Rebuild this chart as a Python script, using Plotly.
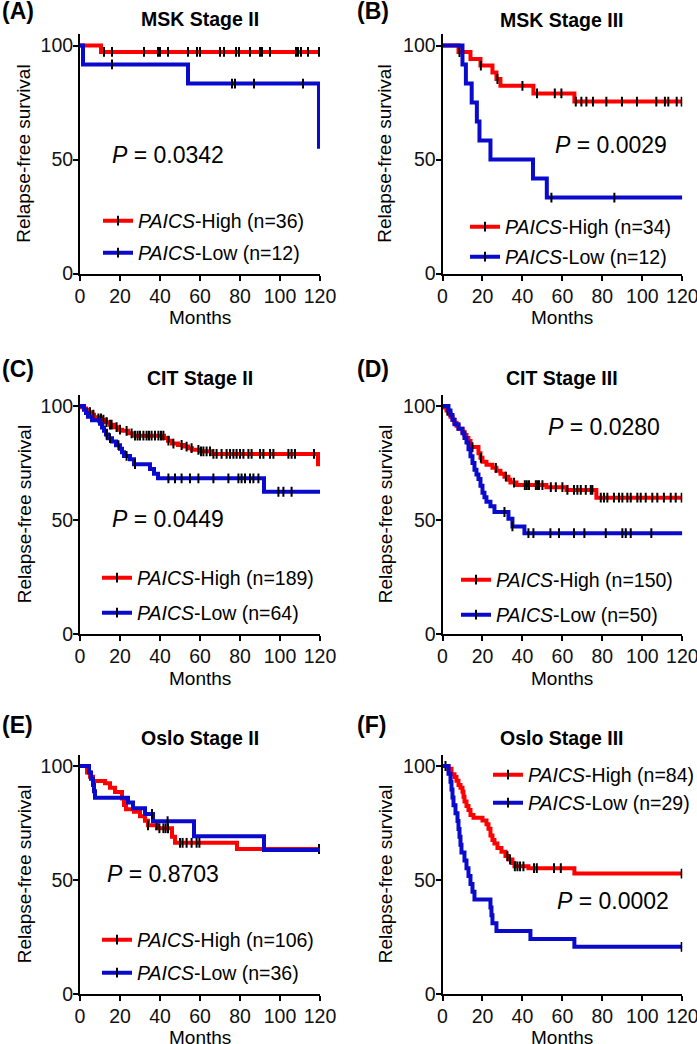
import plotly.graph_objects as go

W, H = 697, 1044
FONT = "Liberation Sans, Arial, sans-serif"
RED = "#FF0000"
BLUE = "#0A0ACD"
END = 120

panel_labels = ["(A)", "(B)", "(C)", "(D)", "(E)", "(F)"]
panel_titles = ["MSK Stage II", "MSK Stage III", "CIT Stage II", "CIT Stage III",
                "Oslo Stage II", "Oslo Stage III"]
p_values = ["0.0342", "0.0029", "0.0449", "0.0280", "0.8703", "0.0002"]
n_high = [36, 34, 189, 150, 106, 84]
n_low = [12, 12, 64, 50, 36, 29]
x_ticks = [0, 20, 40, 60, 80, 100, 120]
y_ticks = [0, 50, 100]

# ---- (A) MSK Stage II ----
A_high_t = [10.5]
A_high_s = [97.2]
A_high_c = [12, 16, 32, 39, 40, 44, 54, 58.5, 60, 70, 72, 78, 79.5, 85, 90, 91, 95,
            108, 109, 110.5, 114, 119.5]
A_low_t = [1.5, 54, 119.5]
A_low_s = [91.7, 83.3, 55.6]
A_low_c = [16, 76, 77.5, 87, 111.5]

# ---- (B) MSK Stage III ----
B_high_t = [8, 14, 19, 25, 27, 29, 45.5, 66]
B_high_s = [97.1, 94.1, 91.2, 88.2, 85.3, 82.3, 79.0, 75.4]
B_high_c = [8.5, 19.2, 27.5, 40, 47.3, 56.2, 59.5, 66.7, 69.5, 72, 75.3, 82, 89.8, 97.3,
            107, 111.3, 113, 117.2, 119.7]
B_low_t = [10, 11.7, 14.6, 17.2, 18.5, 24, 45.3, 52.2]
B_low_s = [91.7, 83.3, 75.0, 66.7, 58.3, 50.0, 41.7, 33.3]
B_low_c = [54.5, 86]

# ---- (C) CIT Stage II ----
C_high_t = [1, 2, 3, 4, 5.5, 7, 9, 11, 13, 15, 17, 19, 21, 24, 27, 42, 44, 46, 49, 52,
            54, 56, 60, 66, 119]
C_high_s = [99.5, 98.9, 98.4, 97.3, 96.2, 95.1, 94.6, 94.0, 92.9, 91.8, 90.7, 89.6, 89.1,
            88.0, 87.0, 86.0, 84.8, 83.5, 82.9, 82.2, 81.5, 80.8, 80.1, 79.0, 74.5]
C_high_c = [5, 6.7, 9.2, 10.5, 11.7, 13.3, 15, 15.8, 18.3, 20, 23.3, 25.8, 27.5, 28.8, 30,
            31.7, 33.3, 34.5, 35.8, 37.5, 39.2, 40.5, 41.7, 44.2, 46.7, 50.8, 53.3, 55.8,
            59.2, 60.5, 61.7, 63.3, 65, 66.7, 68.3, 70.8, 73.3, 75, 76.7, 78.3, 80, 81.7,
            84.2, 85.8, 90, 91.7, 95, 96.7, 104.2, 105.8, 107.5, 117]
C_low_t = [2, 3, 4, 6, 10, 11, 12, 13, 14, 16, 18, 20, 21, 22, 25, 27, 35, 37, 39, 92]
C_low_s = [98.4, 96.9, 95.3, 93.8, 92.2, 90.6, 89.1, 87.5, 85.9, 84.4, 82.8, 81.2, 79.7,
           78.1, 76.6, 74.5, 72.4, 70.3, 68.3, 62.4]
C_low_c = [13.3, 15, 19.2, 23.3, 27.5, 44.2, 47.5, 50.8, 55, 59.2, 66.7, 74.2, 79.2, 80.8,
           82.5, 85, 86.7, 89.2, 99.2, 101.7, 105.8]

# ---- (D) CIT Stage III ----
D_high_t = [1, 2, 3, 4, 5, 6, 7, 8, 10, 11, 12, 13, 14, 18, 19, 20, 22, 25, 27, 29, 31,
            33, 34, 37, 52, 62, 77]
D_high_s = [99.3, 98.0, 96.7, 95.3, 94.0, 92.7, 91.3, 90.0, 88.7, 87.3, 86.0, 84.7, 82.0,
            79.3, 77.3, 75.5, 74.2, 72.9, 71.6, 70.3, 69.0, 67.7, 66.4, 65.3, 64.4, 63.2,
            59.8]
D_high_c = [2.5, 15, 19.2, 26.7, 31.7, 35.8, 41.2, 42.2, 43.3, 46.7, 47.5, 48.3, 50, 54.2,
            56.7, 60, 62.5, 65.8, 67.5, 69.2, 71.7, 74.2, 75, 79.2, 80.8, 82.5, 85.8, 88.3,
            90, 92.5, 94.2, 97.5, 99.2, 101.7, 105, 107.5, 110.8, 114.2, 116.7, 119.7]
D_low_t = [3, 4, 5, 6, 8, 10, 11, 12, 13, 14, 15, 16, 17, 18, 19, 20, 21, 22, 24, 26, 33,
           35, 41]
D_low_s = [98, 96, 94, 92, 90, 88, 86, 84, 81, 78, 75, 72, 70, 68, 65, 62, 60, 58, 56,
           53.5, 50.5, 47.2, 44.2]
D_low_c = [31, 35, 43, 45.5, 54, 58.3, 65.8, 71, 81.7, 90, 91.7, 94.2, 104.5]

# ---- (E) Oslo Stage II ----
E_high_t = [3.5, 5, 6.5, 12.5, 15, 17.5, 21, 22, 23, 27, 30, 32.5, 34, 38.5, 46, 47.5,
            78.5]
E_high_s = [97.2, 95.3, 93.4, 92.4, 90.5, 88.6, 85.7, 82.9, 81.0, 79.9, 78.0, 76.0, 74.0,
            72.7, 69.0, 66.3, 63.6]
E_high_c = [34, 38.3, 39.7, 41.7, 42.8, 44, 50, 51.3, 53.3, 55.8, 58.3, 59.7, 119.5]
E_low_t = [4.5, 5.5, 6.5, 7.0, 7.5, 24, 26.5, 32.5, 36.5, 57, 92]
E_low_s = [97.2, 94.4, 91.7, 88.9, 86.1, 84.0, 81.5, 79.0, 75.8, 69.2, 63.2]
E_low_c = [36, 43.8]

# ---- (F) Oslo Stage III ----
F_high_t = [3, 4.5, 6, 7, 8, 9, 10, 10.5, 11, 12, 13, 14, 15.5, 20, 22, 23, 24, 25, 26,
            27.5, 29.5, 31.5, 33, 35, 36, 43, 66]
F_high_s = [98.8, 96.4, 95.2, 93.5, 91.7, 90.5, 88.7, 86.5, 84.4, 82.5, 80.7, 78.5, 77.3,
            76.1, 74.5, 72.5, 69.5, 67.5, 66.0, 64.0, 62.4, 60.5, 59.0, 57.5, 56.0, 55.2,
            52.8]
F_high_c = [1.5, 32.5, 33.8, 36.2, 37.5, 38.8, 40.5, 45.8, 47.2, 55.8, 59.2, 119.7]
F_low_t = [3, 4, 4.5, 5, 5.5, 6.5, 7.5, 8, 8.5, 9, 9.5, 11, 12, 13, 14, 15, 16, 24, 24.5,
           25, 27, 44, 66]
F_low_s = [96.6, 93.1, 89.7, 86.2, 82.8, 79.3, 75.9, 72.4, 69.0, 65.5, 62.1, 58.6, 55.2,
           51.7, 48.3, 44.8, 41.4, 37.9, 34.5, 31.0, 27.6, 24.1, 20.7]
F_low_c = [119.7]

high_t = [A_high_t, B_high_t, C_high_t, D_high_t, E_high_t, F_high_t]
high_s = [A_high_s, B_high_s, C_high_s, D_high_s, E_high_s, F_high_s]
high_c = [A_high_c, B_high_c, C_high_c, D_high_c, E_high_c, F_high_c]
low_t = [A_low_t, B_low_t, C_low_t, D_low_t, E_low_t, F_low_t]
low_s = [A_low_s, B_low_s, C_low_s, D_low_s, E_low_s, F_low_s]
low_c = [A_low_c, B_low_c, C_low_c, D_low_c, E_low_c, F_low_c]

# ---- layout geometry (pixels) ----
COL_X0 = [80, 442.5]
COL_X1 = [320, 682.3]
ROW_Y0 = [273.5, 634, 994]      # pixel of value 0
PX_PER_UNIT = 2.28
YMAX = 105

label_pos = [(0, 11), (355, 11), (0, 369), (355, 369), (0, 725), (355, 725)]
title_y = [19, 20, 378, 378, 738, 738]
pval_pos = [(110, 155), (553, 145), (110, 519), (546, 427), (105, 874), (555, 901)]
legend_pos = [((138, 221), (138, 253)), ((505, 227), (505, 257)),
              ((137, 578), (137, 613)), ((496, 580), (496, 615)),
              ((137, 940), (137, 973)), ((528, 775), (528, 803))]
ytitle_x = [24, 385]
months_dy = [44, 44, 43]


def px(x):
    return x / W


def py(y):
    return 1 - y / H


def step_xy(times, surv):
    xs = [0] + list(times) + [END]
    ys = [100] + list(surv) + [surv[-1]]
    return xs, ys


def surv_at(times, surv, t):
    v = 100
    for ti, si in zip(times, surv):
        if ti <= t:
            v = si
    return v


fig = go.Figure()
layout = dict(
    width=W, height=H,
    margin=dict(l=0, r=0, t=0, b=0, autoexpand=False),
    paper_bgcolor="white", plot_bgcolor="white",
    font=dict(family=FONT, color="black"),
    showlegend=True,
)
annotations = []

for i in range(6):
    r, c = divmod(i, 2)
    k = i + 1
    xa = "x" if k == 1 else f"x{k}"
    ya = "y" if k == 1 else f"y{k}"
    y0 = ROW_Y0[r]
    ytop = y0 - YMAX * PX_PER_UNIT
    axis_style = dict(showline=True, linecolor="black", linewidth=2, ticks="outside",
                      ticklen=5, tickwidth=2, tickcolor="black", showgrid=False,
                      zeroline=False, tickfont=dict(size=19.5, family=FONT, color="#111"),
                      fixedrange=True, ticklabeloverflow="allow")
    layout[f"xaxis{'' if k == 1 else k}"] = dict(
        domain=[px(COL_X0[c]), px(COL_X1[c])], anchor=ya, range=[0, END],
        tickvals=x_ticks, ticklabelstandoff=-1, **axis_style)
    layout[f"yaxis{'' if k == 1 else k}"] = dict(
        domain=[py(y0), py(ytop)], anchor=xa, range=[0, YMAX],
        tickvals=y_ticks, ticklabelstandoff=-4, **axis_style)

    groups = [(high_t[i], high_s[i], high_c[i], RED, f"<i>PAICS</i>-High (n={n_high[i]})"),
              (low_t[i], low_s[i], low_c[i], BLUE, f"<i>PAICS</i>-Low (n={n_low[i]})")]
    for g, (t, s, cen, col, name) in enumerate(groups):
        lg_id = 2 * i + g + 1
        lg = "legend" if lg_id == 1 else f"legend{lg_id}"
        xs, ys = step_xy(t, s)
        fig.add_trace(go.Scatter(x=xs, y=ys, mode="lines", line=dict(color=col, width=4,
                                 shape="hv"), xaxis=xa, yaxis=ya, showlegend=False,
                                 hoverinfo="skip"))
        fig.add_trace(go.Scatter(x=cen, y=[surv_at(t, s, v) for v in cen], mode="markers",
                                 marker=dict(symbol="line-ns", size=7, color="black",
                                             line=dict(color="black", width=2)),
                                 xaxis=xa, yaxis=ya, showlegend=False, hoverinfo="skip"))
        # legend entry
        fig.add_trace(go.Scatter(x=[None], y=[None], mode="lines+markers", name=name,
                                 line=dict(color=col, width=4),
                                 marker=dict(symbol="line-ns", size=7, color="black",
                                             line=dict(color="black", width=2)),
                                 xaxis=xa, yaxis=ya, legend=lg, showlegend=True))
        tx, ty = legend_pos[i][g]
        layout[lg] = dict(x=px(tx - 40), y=py(ty), xanchor="left", yanchor="middle",
                          bgcolor="rgba(0,0,0,0)", borderwidth=0, itemwidth=30,
                          font=dict(size=19.5, family=FONT, color="black"))

    cx = (COL_X0[c] + COL_X1[c]) / 2
    lx, ly = label_pos[i]
    annotations.append(dict(text=f"<b>{panel_labels[i]}</b>", x=px(lx), y=py(ly),
                            xref="paper", yref="paper", xanchor="left", yanchor="middle",
                            showarrow=False, font=dict(size=23, family=FONT, color="black")))
    annotations.append(dict(text=f"<b>{panel_titles[i]}</b>", x=px(cx), y=py(title_y[i]),
                            xref="paper", yref="paper", xanchor="center", yanchor="middle",
                            showarrow=False, font=dict(size=19.5, family=FONT, color="black")))
    vx, vy = pval_pos[i]
    annotations.append(dict(text=f"<i>P</i> = {p_values[i]}", x=px(vx), y=py(vy),
                            xref="paper", yref="paper", xanchor="left", yanchor="middle",
                            showarrow=False, font=dict(size=23, family=FONT, color="black")))
    annotations.append(dict(text="Relapse-free survival", x=px(ytitle_x[c]),
                            y=py((y0 + ytop) / 2), xref="paper", yref="paper",
                            xanchor="center", yanchor="middle", textangle=-90,
                            showarrow=False, font=dict(size=19, family=FONT, color="black")))
    annotations.append(dict(text="Months", x=px(cx), y=py(y0 + months_dy[r]), xref="paper",
                            yref="paper", xanchor="center", yanchor="middle",
                            showarrow=False, font=dict(size=19, family=FONT, color="black")))

layout["annotations"] = annotations
fig.update_layout(**layout)
fig.write_html("out.html", config={"displayModeBar": False},
               post_script="document.body.style.margin='0';")
